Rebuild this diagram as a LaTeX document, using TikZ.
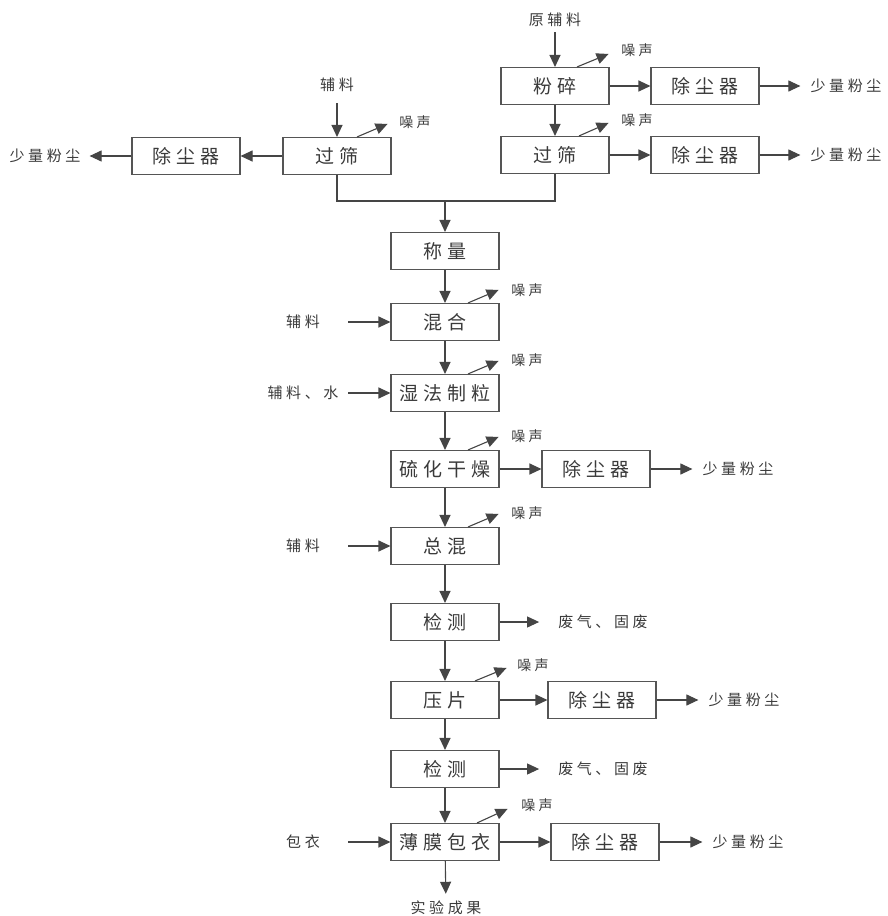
\documentclass[tikz,border=0pt]{standalone}
\usepackage{fontspec}
\usetikzlibrary{arrows.meta}
\setmainfont{Noto Sans CJK SC}
\newfontfamily\boxcjk[LetterSpace=26]{Noto Sans CJK SC}
\newfontfamily\lblcjk[LetterSpace=24]{Noto Sans CJK SC}
\definecolor{linegray}{HTML}{454545}
\definecolor{boxgray}{HTML}{555555}
\definecolor{txtgray}{HTML}{3A3A3A}
\begin{document}
\begin{tikzpicture}[x=1pt,y=-1pt,
  box/.style={draw=boxgray,line width=1.1pt,minimum width=108pt,minimum height=37pt,
    inner sep=0pt,text=txtgray,font=\boxcjk\fontsize{19}{19}\selectfont},
  lbl/.style={inner sep=0pt,text=txtgray,font=\lblcjk\fontsize{15}{15}\selectfont},
  noise/.style={inner sep=0pt,text=txtgray,font=\lblcjk\fontsize{14}{14}\selectfont},
  arr/.style={draw=linegray,line width=1.1pt,-{Triangle[length=12pt,width=11pt]}},
  ln/.style={draw=linegray,line width=1.1pt}]

\useasboundingbox (0,0) rectangle (887,916);

% top right: crushing and sieving
\node[lbl] (raw) at (555,20) {原辅料};
\node[box] (crush) at (555,86) {粉碎};
\node[box] (sieveR) at (555,155) {过筛};
\node[box] (dustA) at (705,86) {除尘器};
\node[box] (dustB) at (705,155) {除尘器};
\node[lbl] (fineA) at (846,86) {少量粉尘};
\node[lbl] (fineB) at (846,155) {少量粉尘};

% top left: sieving of auxiliary
\node[lbl] (auxA) at (337,85) {辅料};
\node[box] (sieveL) at (337,156) {过筛};
\node[box] (dustL) at (186,156) {除尘器};
\node[lbl] (fineL) at (45,156) {少量粉尘};

% main line
\node[box] (weigh) at (445,251) {称量};
\node[box] (mix) at (445,322) {混合};
\node[box] (wetg) at (445,393) {湿法制粒};
\node[box] (dry) at (445,469) {硫化干燥};
\node[box] (blend) at (445,546) {总混};
\node[box] (testA) at (445,622) {检测};
\node[box] (press) at (445,700) {压片};
\node[box] (testB) at (445,769) {检测};
\node[box] (coat) at (445,842) {薄膜包衣};
\node[lbl] (result) at (446,908) {实验成果};

% inputs on the left
\node[lbl] (auxB) at (303,322) {辅料};
\node[lbl] (auxC) at (303,393) {辅料、水};
\node[lbl] (auxD) at (303,546) {辅料};
\node[lbl] (auxE) at (303,842) {包衣};

% outputs on the right
\node[box] (dustC) at (596,469) {除尘器};
\node[lbl] (fineC) at (738,469) {少量粉尘};
\node[lbl] (wasteA) at (603,622) {废气、固废};
\node[box] (dustD) at (602,700) {除尘器};
\node[lbl] (fineD) at (744,700) {少量粉尘};
\node[lbl] (wasteB) at (603,769) {废气、固废};
\node[box] (dustE) at (605,842) {除尘器};
\node[lbl] (fineE) at (748,842) {少量粉尘};

% noise labels
\node[noise] (nzA) at (637,50) {噪声};
\node[noise] (nzB) at (637,120) {噪声};
\node[noise] (nzL) at (415,122) {噪声};
\node[noise] (nzC) at (527,290) {噪声};
\node[noise] (nzD) at (527,360) {噪声};
\node[noise] (nzE) at (527,436) {噪声};
\node[noise] (nzF) at (527,513) {噪声};
\node[noise] (nzG) at (533,665) {噪声};
\node[noise] (nzH) at (537,805) {噪声};

% top right arrows
\draw[arr,shorten <=5pt] (raw) -- (crush);
\draw[arr] (crush) -- (sieveR);
\draw[arr] (crush) -- (dustA);
\draw[arr] (sieveR) -- (dustB);
\draw[arr,shorten >=10pt] (dustA) -- (fineA);
\draw[arr,shorten >=10pt] (dustB) -- (fineB);

% top left arrows
\draw[arr,shorten <=11pt] (auxA) -- (sieveL);
\draw[arr] (sieveL) -- (dustL);
\draw[arr,shorten >=9pt] (dustL) -- (fineL);

% join of the two sieves
\coordinate (join) at (445,201);
\draw[ln] (sieveL.south) |- (join) -| (sieveR.south);
\draw[arr] (join) -- (weigh);

% main line arrows
\draw[arr] (weigh) -- (mix);
\draw[arr] (mix) -- (wetg);
\draw[arr] (wetg) -- (dry);
\draw[arr] (dry) -- (blend);
\draw[arr] (blend) -- (testA);
\draw[arr] (testA) -- (press);
\draw[arr] (press) -- (testB);
\draw[arr] (testB) -- (coat);
\draw[arr,shorten >=7pt] (coat) -- (result);

% inputs
\draw[arr] ([xshift=-42pt]mix.west) -- (mix);
\draw[arr] ([xshift=-42pt]wetg.west) -- (wetg);
\draw[arr] ([xshift=-42pt]blend.west) -- (blend);
\draw[arr] ([xshift=-42pt]coat.west) -- (coat);

% outputs
\draw[arr] (dry) -- (dustC);
\draw[arr,shorten >=10pt] (dustC) -- (fineC);
\draw[arr,shorten >=19pt] (testA) -- (wasteA);
\draw[arr] (press) -- (dustD);
\draw[arr,shorten >=10pt] (dustD) -- (fineD);
\draw[arr,shorten >=19pt] (testB) -- (wasteB);
\draw[arr] (coat) -- (dustE);
\draw[arr,shorten >=10pt] (dustE) -- (fineE);

% noise arrows
\draw[arr] ([xshift=22pt]crush.north) -- ([xshift=-1pt,yshift=13pt]crush.north east);
\draw[arr] ([xshift=24pt]sieveR.north) -- ([xshift=-1pt,yshift=13pt]sieveR.north east);
\draw[arr] ([xshift=20pt]sieveL.north) -- ([xshift=-4pt,yshift=13pt]sieveL.north east);
\draw[arr] ([xshift=23pt]mix.north) -- ([xshift=-1pt,yshift=13pt]mix.north east);
\draw[arr] ([xshift=23pt]wetg.north) -- ([xshift=-1pt,yshift=13pt]wetg.north east);
\draw[arr] ([xshift=23pt]dry.north) -- ([xshift=-1pt,yshift=13pt]dry.north east);
\draw[arr] ([xshift=23pt]blend.north) -- ([xshift=-1pt,yshift=13pt]blend.north east);
\draw[arr] ([xshift=30pt]press.north) -- ([xshift=7pt,yshift=13pt]press.north east);
\draw[arr] ([xshift=32pt]coat.north) -- ([xshift=8pt,yshift=14pt]coat.north east);

\end{tikzpicture}
\end{document}
